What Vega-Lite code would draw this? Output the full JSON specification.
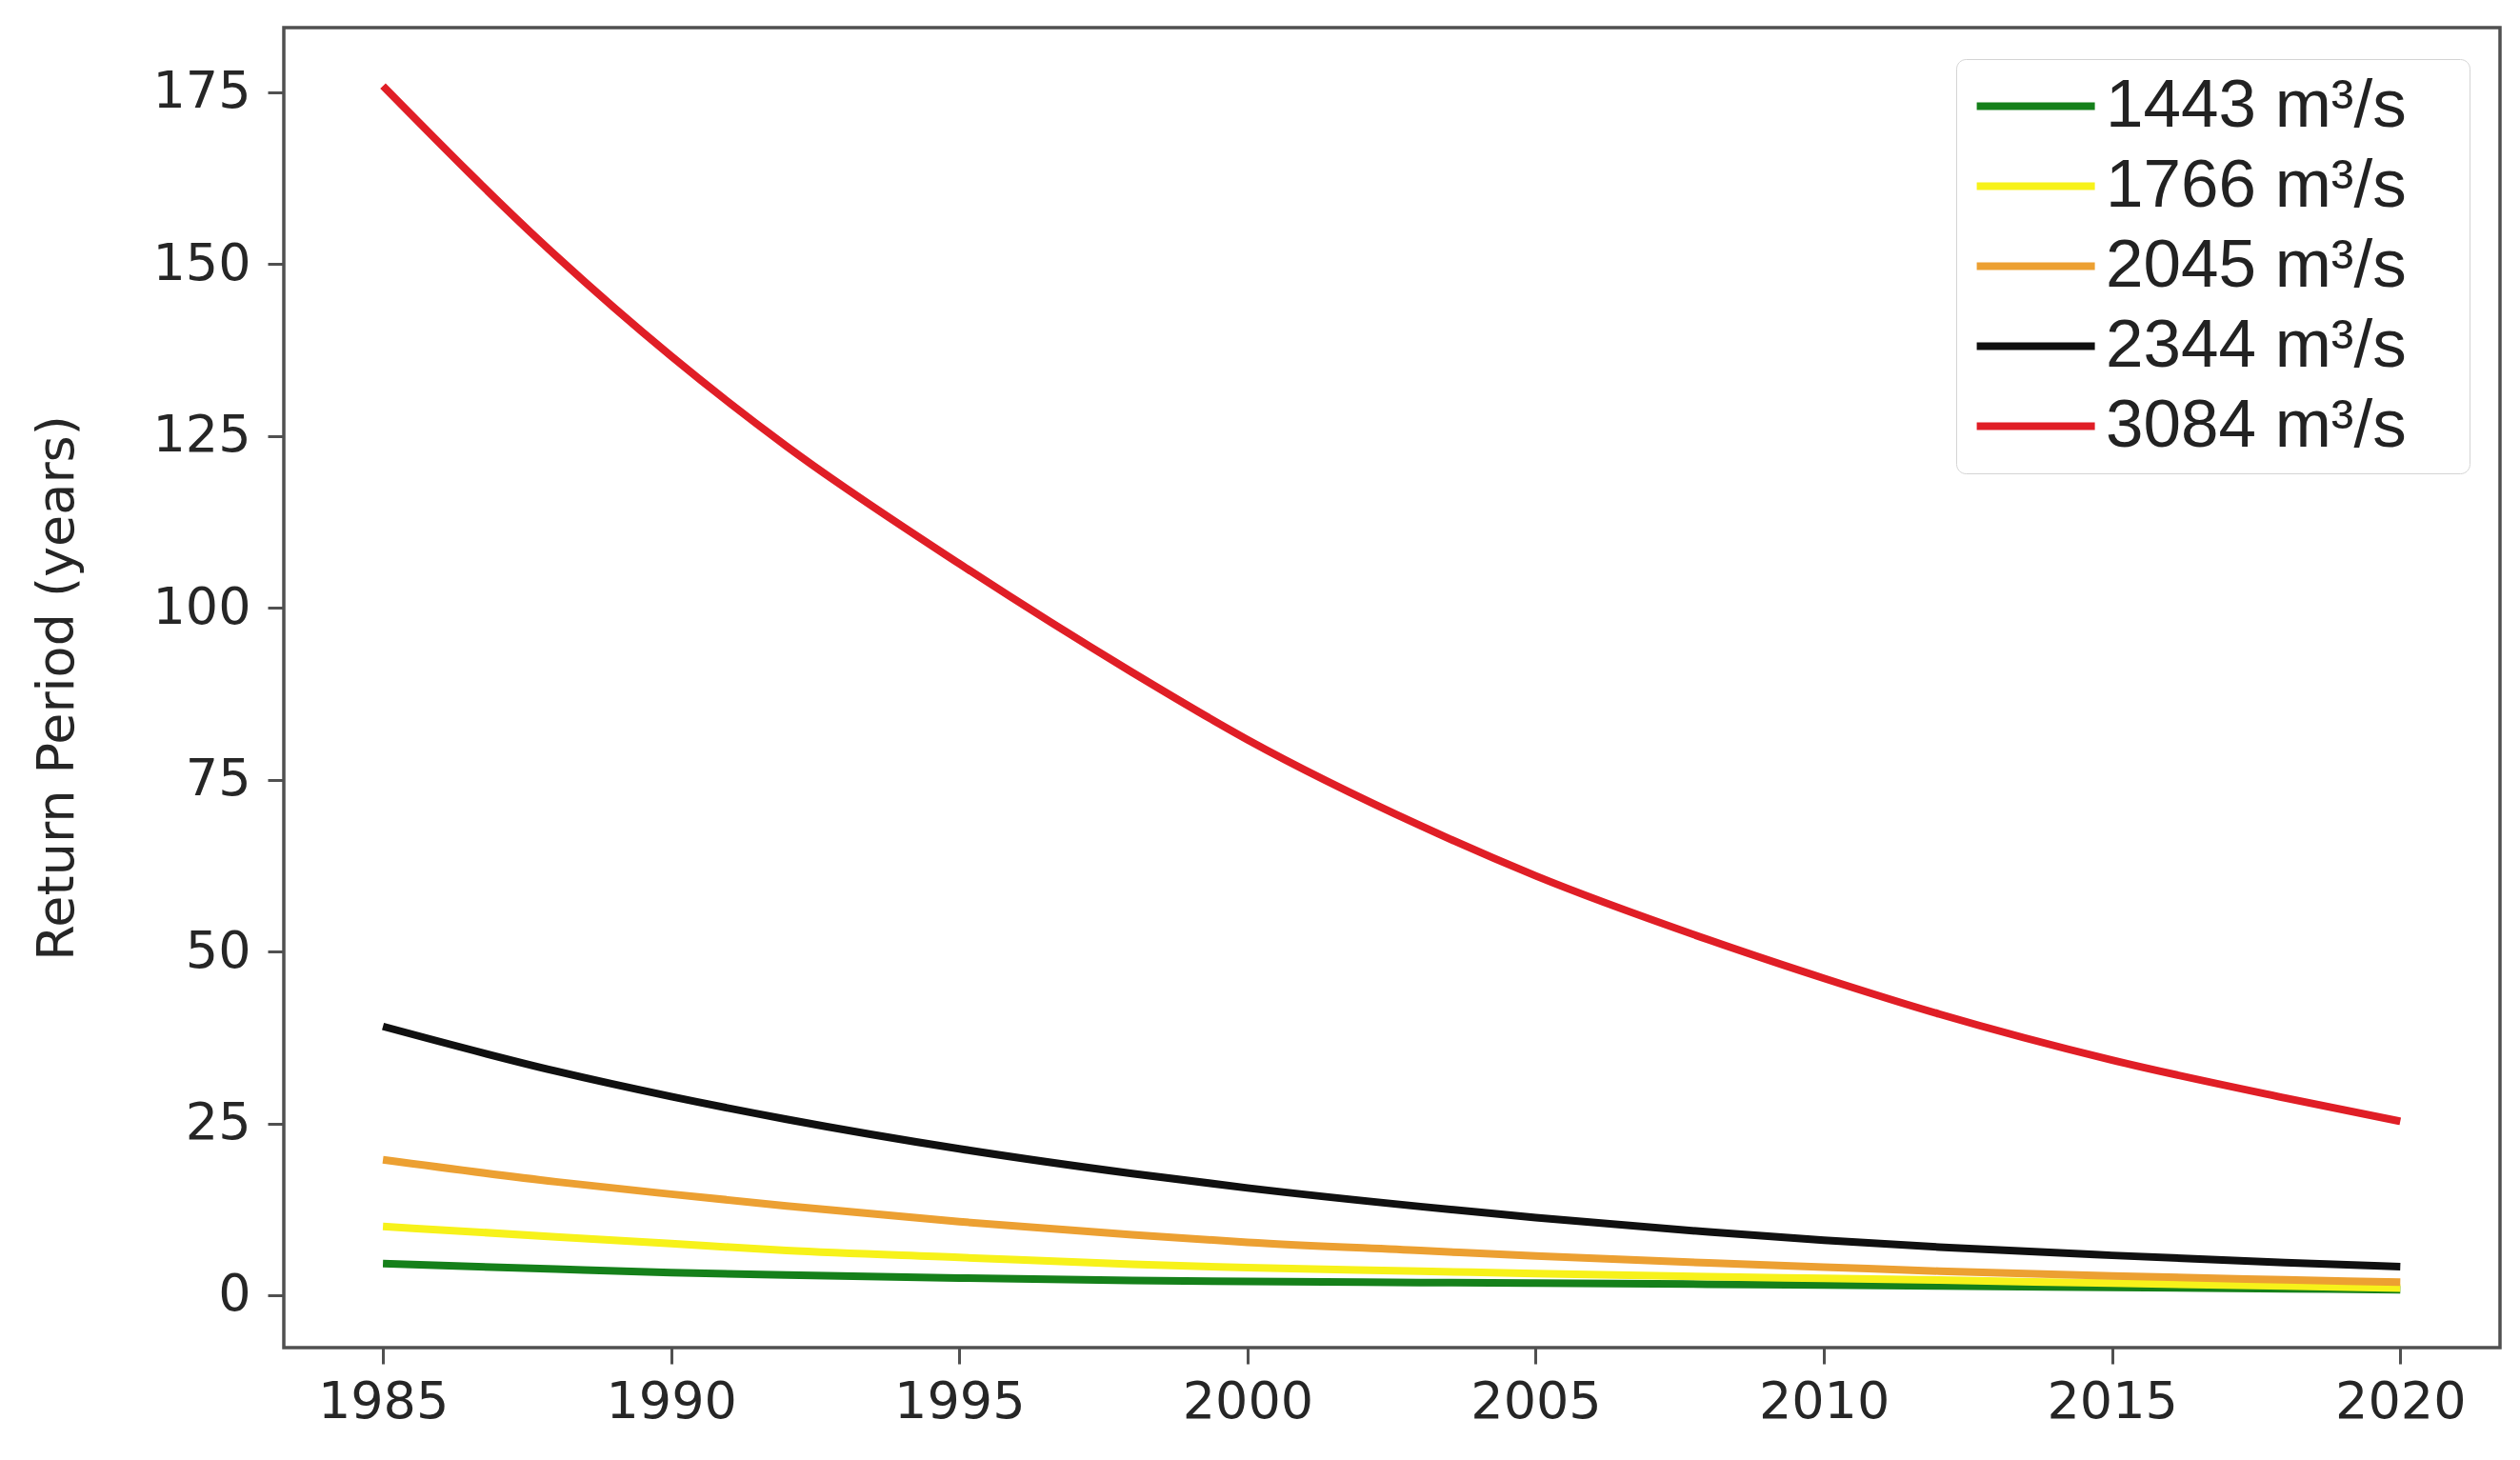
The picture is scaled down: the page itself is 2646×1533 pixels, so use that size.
{
  "$schema": "https://vega.github.io/schema/vega-lite/v6.json",
  "autosize": {"type": "none"},
  "padding": {"left": 298, "top": 29, "right": 21, "bottom": 118},
  "width": 2327,
  "height": 1386,
  "background": "white",
  "config": {
    "view": {"stroke": "#505050", "strokeWidth": 3.5},
    "axis": {
      "labelFont": "DejaVu Sans",
      "labelFontSize": 54,
      "labelColor": "#262626",
      "tickColor": "#505050",
      "tickSize": 17,
      "tickWidth": 3,
      "domain": false,
      "grid": false,
      "titleFont": "DejaVu Sans",
      "titleFontSize": 54,
      "titleFontWeight": "normal",
      "titleColor": "#262626"
    }
  },
  "data": {
    "values": [
      {"year": 1985, "rp": 4.6, "series": "1443 m³/s"},
      {"year": 1988, "rp": 3.8, "series": "1443 m³/s"},
      {"year": 1990, "rp": 3.3, "series": "1443 m³/s"},
      {"year": 1992, "rp": 2.95, "series": "1443 m³/s"},
      {"year": 1995, "rp": 2.5, "series": "1443 m³/s"},
      {"year": 1998, "rp": 2.15, "series": "1443 m³/s"},
      {"year": 2000, "rp": 2.0, "series": "1443 m³/s"},
      {"year": 2003, "rp": 1.85, "series": "1443 m³/s"},
      {"year": 2005, "rp": 1.75, "series": "1443 m³/s"},
      {"year": 2008, "rp": 1.6, "series": "1443 m³/s"},
      {"year": 2010, "rp": 1.5, "series": "1443 m³/s"},
      {"year": 2012, "rp": 1.35, "series": "1443 m³/s"},
      {"year": 2015, "rp": 1.15, "series": "1443 m³/s"},
      {"year": 2018, "rp": 0.95, "series": "1443 m³/s"},
      {"year": 2020, "rp": 0.8, "series": "1443 m³/s"},

      {"year": 1985, "rp": 10.0, "series": "1766 m³/s"},
      {"year": 1988, "rp": 8.5, "series": "1766 m³/s"},
      {"year": 1990, "rp": 7.5, "series": "1766 m³/s"},
      {"year": 1992, "rp": 6.5, "series": "1766 m³/s"},
      {"year": 1995, "rp": 5.5, "series": "1766 m³/s"},
      {"year": 1998, "rp": 4.5, "series": "1766 m³/s"},
      {"year": 2000, "rp": 4.0, "series": "1766 m³/s"},
      {"year": 2003, "rp": 3.5, "series": "1766 m³/s"},
      {"year": 2005, "rp": 3.15, "series": "1766 m³/s"},
      {"year": 2008, "rp": 2.7, "series": "1766 m³/s"},
      {"year": 2010, "rp": 2.45, "series": "1766 m³/s"},
      {"year": 2012, "rp": 2.2, "series": "1766 m³/s"},
      {"year": 2015, "rp": 1.75, "series": "1766 m³/s"},
      {"year": 2018, "rp": 1.35, "series": "1766 m³/s"},
      {"year": 2020, "rp": 1.05, "series": "1766 m³/s"},

      {"year": 1985, "rp": 19.7, "series": "2045 m³/s"},
      {"year": 1988, "rp": 16.5, "series": "2045 m³/s"},
      {"year": 1990, "rp": 14.7, "series": "2045 m³/s"},
      {"year": 1992, "rp": 13.0, "series": "2045 m³/s"},
      {"year": 1995, "rp": 10.7, "series": "2045 m³/s"},
      {"year": 1998, "rp": 8.8, "series": "2045 m³/s"},
      {"year": 2000, "rp": 7.7, "series": "2045 m³/s"},
      {"year": 2003, "rp": 6.5, "series": "2045 m³/s"},
      {"year": 2005, "rp": 5.7, "series": "2045 m³/s"},
      {"year": 2008, "rp": 4.7, "series": "2045 m³/s"},
      {"year": 2010, "rp": 4.1, "series": "2045 m³/s"},
      {"year": 2012, "rp": 3.5, "series": "2045 m³/s"},
      {"year": 2015, "rp": 2.8, "series": "2045 m³/s"},
      {"year": 2018, "rp": 2.25, "series": "2045 m³/s"},
      {"year": 2020, "rp": 1.9, "series": "2045 m³/s"},

      {"year": 1985, "rp": 39.1, "series": "2344 m³/s"},
      {"year": 1988, "rp": 32.6, "series": "2344 m³/s"},
      {"year": 1990, "rp": 28.9, "series": "2344 m³/s"},
      {"year": 1992, "rp": 25.6, "series": "2344 m³/s"},
      {"year": 1995, "rp": 21.3, "series": "2344 m³/s"},
      {"year": 1998, "rp": 17.7, "series": "2344 m³/s"},
      {"year": 2000, "rp": 15.6, "series": "2344 m³/s"},
      {"year": 2003, "rp": 12.9, "series": "2344 m³/s"},
      {"year": 2005, "rp": 11.3, "series": "2344 m³/s"},
      {"year": 2008, "rp": 9.2, "series": "2344 m³/s"},
      {"year": 2010, "rp": 8.0, "series": "2344 m³/s"},
      {"year": 2012, "rp": 7.0, "series": "2344 m³/s"},
      {"year": 2015, "rp": 5.8, "series": "2344 m³/s"},
      {"year": 2018, "rp": 4.75, "series": "2344 m³/s"},
      {"year": 2020, "rp": 4.15, "series": "2344 m³/s"},

      {"year": 1985, "rp": 175.9, "series": "3084 m³/s"},
      {"year": 1988, "rp": 151.2, "series": "3084 m³/s"},
      {"year": 1990, "rp": 136.6, "series": "3084 m³/s"},
      {"year": 1992, "rp": 123.5, "series": "3084 m³/s"},
      {"year": 1995, "rp": 106.4, "series": "3084 m³/s"},
      {"year": 1998, "rp": 90.6, "series": "3084 m³/s"},
      {"year": 2000, "rp": 80.8, "series": "3084 m³/s"},
      {"year": 2003, "rp": 68.3, "series": "3084 m³/s"},
      {"year": 2005, "rp": 61.0, "series": "3084 m³/s"},
      {"year": 2008, "rp": 51.7, "series": "3084 m³/s"},
      {"year": 2010, "rp": 46.1, "series": "3084 m³/s"},
      {"year": 2012, "rp": 40.9, "series": "3084 m³/s"},
      {"year": 2015, "rp": 34.2, "series": "3084 m³/s"},
      {"year": 2018, "rp": 28.7, "series": "3084 m³/s"},
      {"year": 2020, "rp": 25.3, "series": "3084 m³/s"}
    ]
  },
  "mark": {"type": "line", "strokeWidth": 8, "interpolate": "monotone", "clip": true},
  "encoding": {
    "x": {
      "field": "year",
      "type": "quantitative",
      "scale": {"domain": [1983.28, 2021.73], "nice": false, "zero": false},
      "axis": {
        "values": [1985, 1990, 1995, 2000, 2005, 2010, 2015, 2020],
        "format": "d",
        "labelPadding": 13,
        "title": null
      }
    },
    "y": {
      "field": "rp",
      "type": "quantitative",
      "scale": {"domain": [-7.62, 184.38], "nice": false, "zero": false},
      "axis": {
        "values": [0, 25, 50, 75, 100, 125, 150, 175],
        "labelPadding": 18,
        "title": "Return Period (years)",
        "titlePadding": 72
      }
    },
    "color": {
      "field": "series",
      "type": "nominal",
      "scale": {
        "domain": ["1443 m³/s", "1766 m³/s", "2045 m³/s", "2344 m³/s", "3084 m³/s"],
        "range": ["#15801a", "#f7f21a", "#eca032", "#101010", "#e01e26"]
      },
      "legend": {
        "title": null,
        "orient": "none",
        "legendX": 1756,
        "legendY": 33,
        "padding": 14,
        "rowPadding": 12,
        "symbolType": "M-0.9,0H3.1",
        "symbolSize": 3844,
        "symbolStrokeWidth": 8,
        "symbolFillColor": "transparent",
        "labelOffset": 72,
        "labelFont": "Liberation Sans",
        "labelFontSize": 71,
        "labelColor": "#222222",
        "labelLimit": 700,
        "labelExpr": "datum.label + '\u2800'",
        "strokeColor": "#d4d4d4",
        "fillColor": "white",
        "cornerRadius": 10
      }
    }
  }
}
